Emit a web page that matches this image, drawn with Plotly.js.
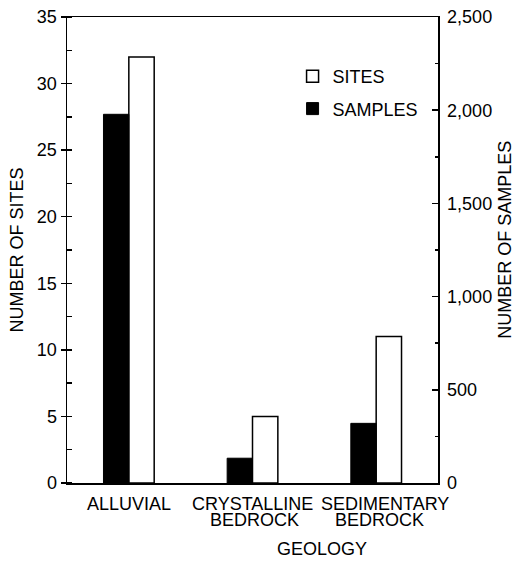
<!DOCTYPE html>
<html>
<head>
<meta charset="utf-8">
<script src="https://cdn.plot.ly/plotly-3.0.1.min.js"></script>
<style>html,body{margin:0;padding:0;background:#fff}</style>
</head>
<body>
<div id="chart" style="width:522px;height:562px"></div>
<script>
// Geology categories and the two series (sites on left axis, samples on right axis)
const geology = ['ALLUVIAL', 'CRYSTALLINE BEDROCK', 'SEDIMENTARY BEDROCK'];
const labelLine1 = ['ALLUVIAL', 'CRYSTALLINE', 'SEDIMENTARY'];
const labelLine2 = ['', 'BEDROCK', 'BEDROCK'];
const sites = [32, 5, 11];
const samples = [1978, 133, 320];

const FONT = 'Liberation Sans, Arial, Helvetica, sans-serif';
const TXT = {family: FONT, size: 18, color: '#000'};
const barW = 0.205;

const traces = [
  {
    type: 'bar', name: 'SITES', x: geology, y: sites, yaxis: 'y',
    width: barW, offset: 0,
    marker: {color: '#ffffff', line: {color: '#000000', width: 1.5}},
    legendgroup: 'a', hoverinfo: 'skip'
  },
  {
    type: 'bar', name: 'SAMPLES', x: geology, y: samples, yaxis: 'y2',
    width: barW, offset: -barW,
    marker: {color: '#000000', line: {color: '#000000', width: 1}},
    legendgroup: 'b', hoverinfo: 'skip'
  }
];

// Two-line category labels under the bars
const annotations = [];
geology.forEach((g, i) => {
  annotations.push({
    x: g, xref: 'x', xanchor: 'center', y: 0, yref: 'paper', yanchor: 'top', yshift: -9,
    xshift: i === 2 ? 9 : 0, text: labelLine1[i], showarrow: false, font: TXT
  });
  if (labelLine2[i]) {
    annotations.push({
      x: g, xref: 'x', xanchor: 'center', y: 0, yref: 'paper', yanchor: 'top', yshift: -25,
      xshift: i === 2 ? 3 : 2, text: labelLine2[i], showarrow: false, font: TXT
    });
  }
});
// Axis captions
annotations.push({
  x: 0.688, xref: 'paper', xanchor: 'center', y: 0, yref: 'paper', yanchor: 'top', yshift: -54,
  text: 'GEOLOGY', showarrow: false, font: TXT
});
annotations.push({
  x: 1.18, xref: 'paper', xanchor: 'center', y: 0.5215, yref: 'paper', yanchor: 'middle',
  textangle: -90, text: 'NUMBER OF SAMPLES', showarrow: false, font: TXT
});

const layout = {
  width: 522, height: 562,
  margin: {l: 67, r: 84, t: 17, b: 79, pad: 0},
  paper_bgcolor: '#fff', plot_bgcolor: '#fff',
  font: TXT,
  barmode: 'overlay',
  showlegend: true,
  legend: {
    x: 0.608, y: 0.912, xanchor: 'left', yanchor: 'top',
    bgcolor: 'rgba(0,0,0,0)', traceorder: 'grouped', tracegroupgap: 6,
    font: TXT
  },
  xaxis: {
    type: 'category', range: [-0.5, 2.5],
    showticklabels: false, ticks: '', showgrid: false, zeroline: false,
    showline: true, linecolor: '#000', linewidth: 1.5, mirror: true
  },
  yaxis: {
    range: [0, 35], dtick: 5, tick0: 0,
    ticks: 'outside', ticklen: 5, tickwidth: 1.5, tickcolor: '#000',
    minor: {dtick: 2.5, ticks: 'inside', ticklen: 5, tickwidth: 1.5, tickcolor: '#000'},
    showgrid: false, zeroline: false,
    showline: true, linecolor: '#000', linewidth: 1.5,
    tickfont: TXT,
    title: {text: 'NUMBER OF SITES', font: TXT, standoff: 8}
  },
  yaxis2: {
    overlaying: 'y', side: 'right', range: [0, 2500], dtick: 500, tick0: 0,
    tickformat: ',d',
    ticks: 'inside', ticklen: 6, tickwidth: 1.5, tickcolor: '#000',
    minor: {dtick: 250, ticks: 'inside', ticklen: 3, tickwidth: 1.5, tickcolor: '#000'},
    ticklabelstandoff: 4,
    showgrid: false, zeroline: false,
    showline: true, linecolor: '#000', linewidth: 1.5,
    tickfont: TXT
  },
  annotations: annotations
};

Plotly.newPlot('chart', traces, layout, {staticPlot: true, displayModeBar: false});
</script>
</body>
</html>
